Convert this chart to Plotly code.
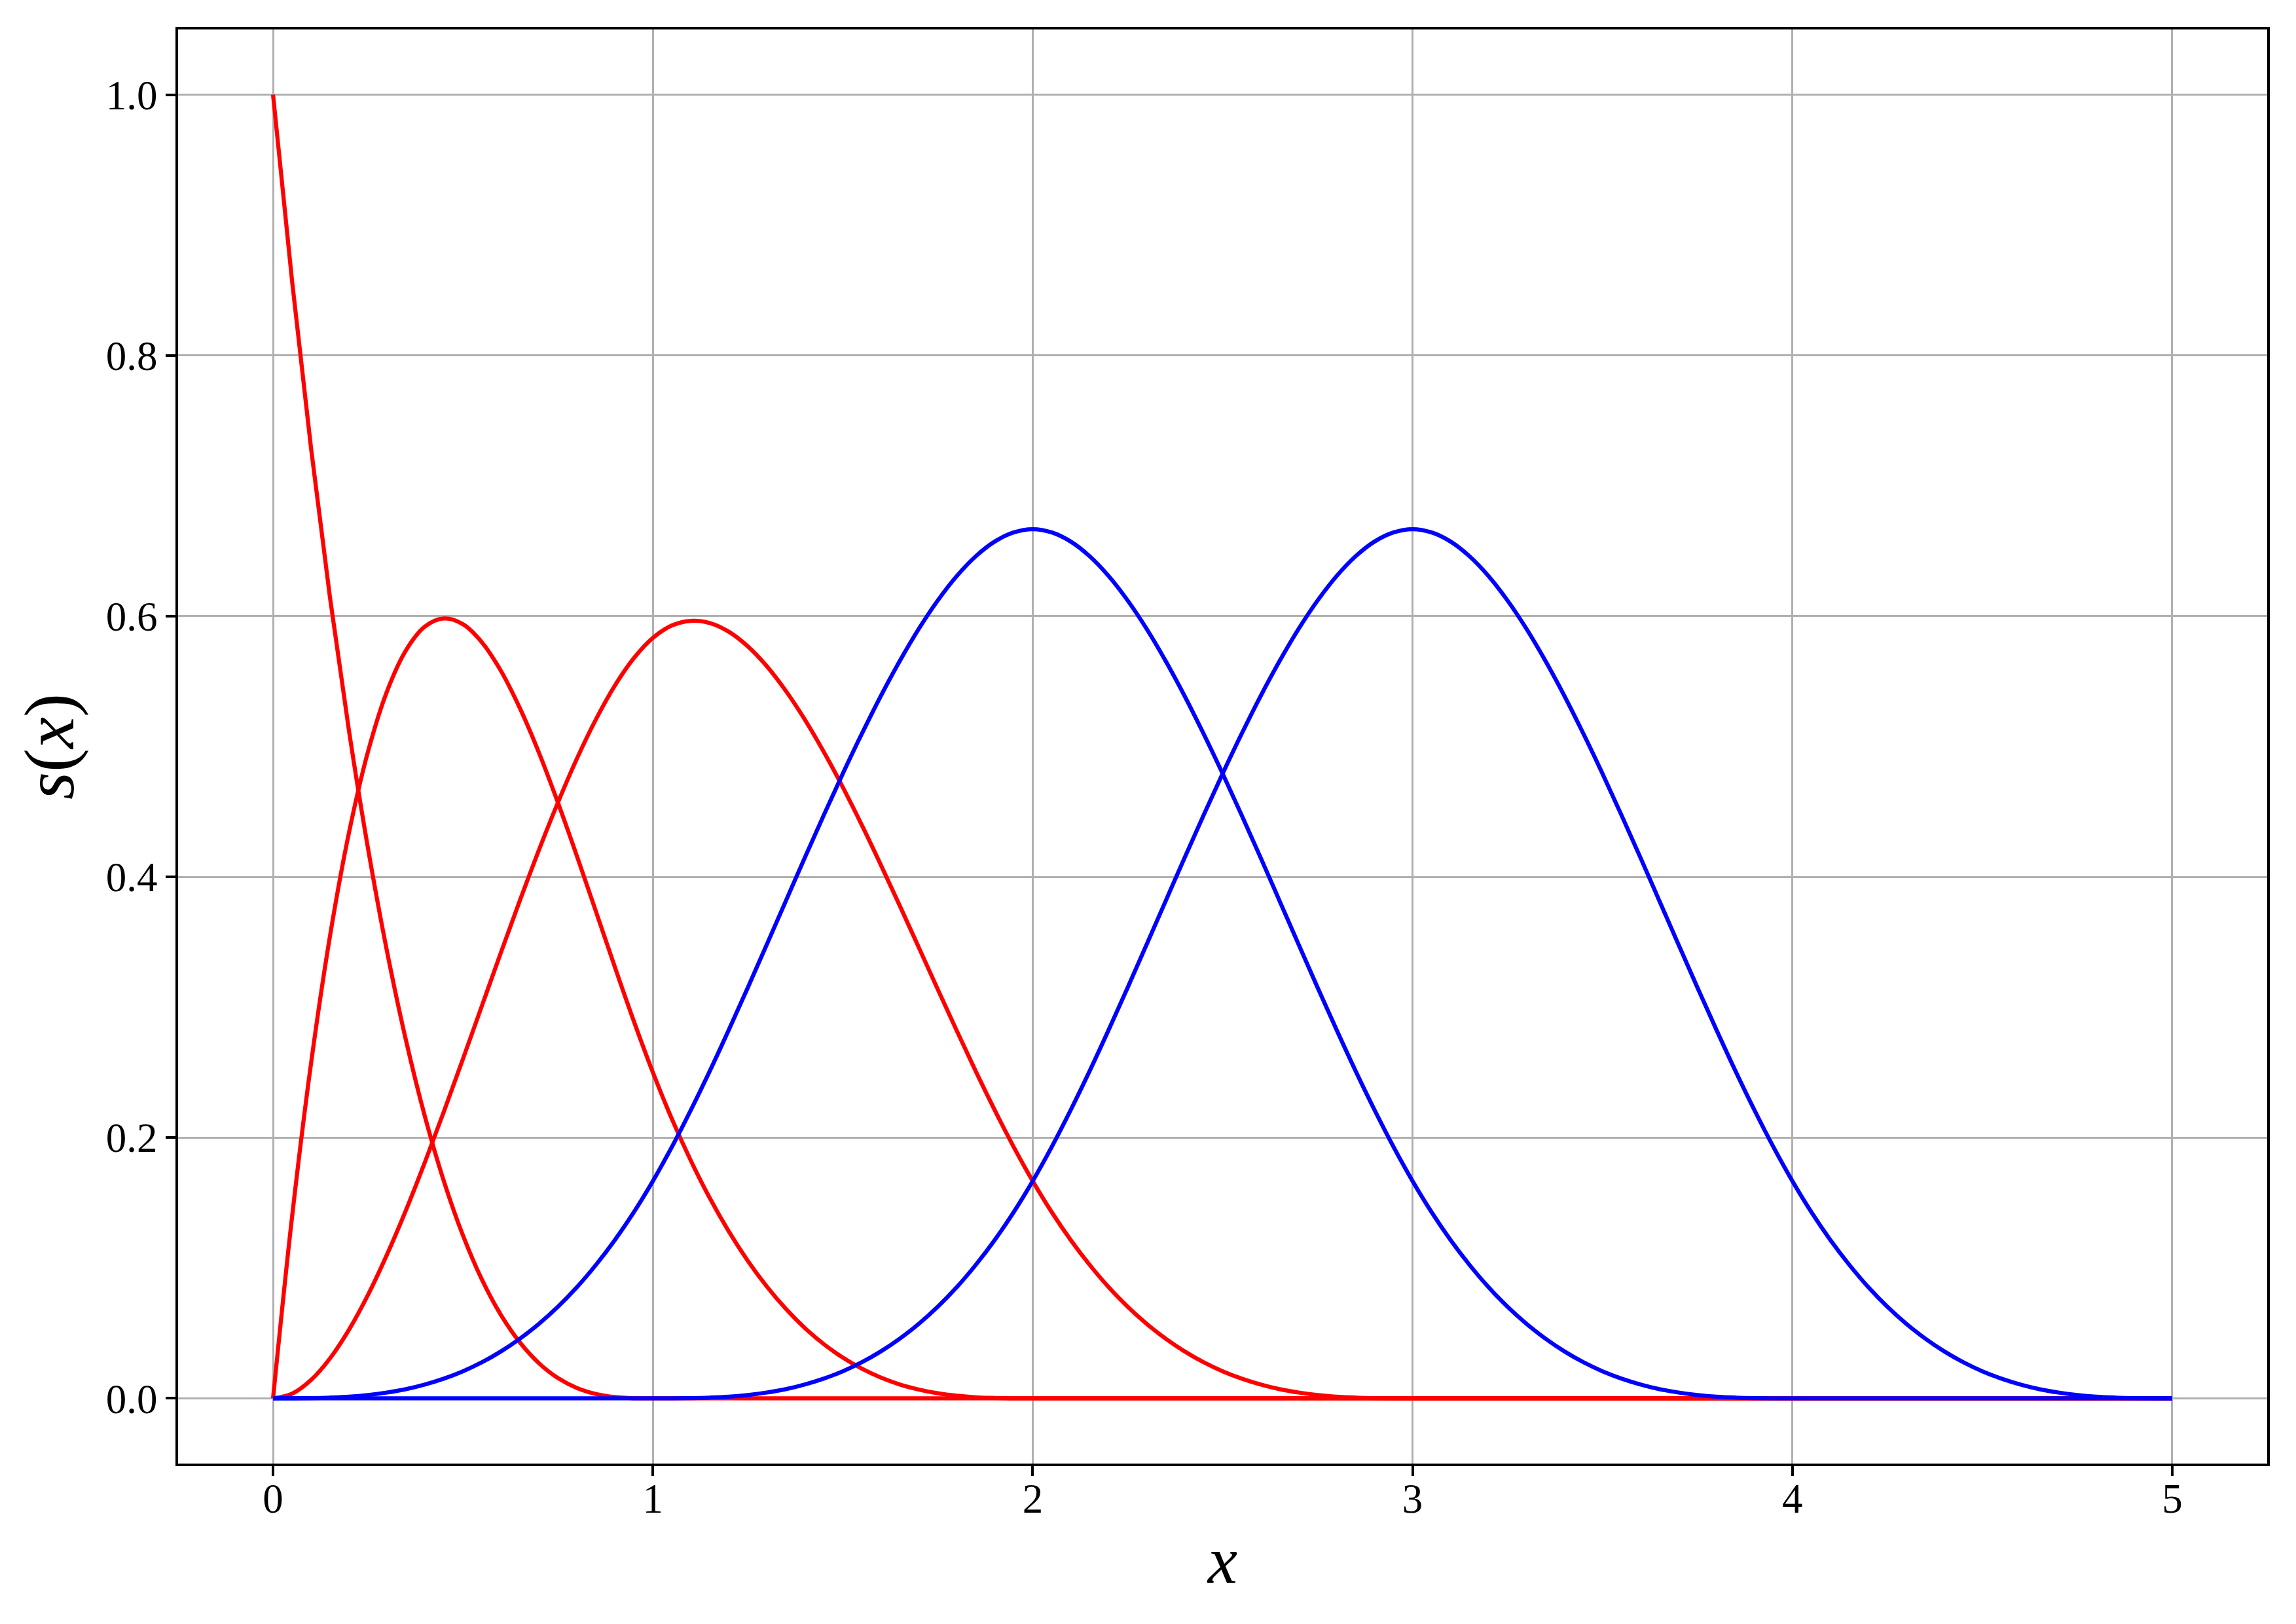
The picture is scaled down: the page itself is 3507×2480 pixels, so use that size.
import plotly.graph_objects as go

# x sample positions
x_vals = [0.0, 0.05, 0.1, 0.15, 0.2, 0.25, 0.3, 0.35, 0.4, 0.45,
          0.5, 0.55, 0.6, 0.65, 0.7, 0.75, 0.8, 0.85, 0.9, 0.95,
          1.0, 1.05, 1.1, 1.15, 1.2, 1.25, 1.3, 1.35, 1.4, 1.45,
          1.5, 1.55, 1.6, 1.65, 1.7, 1.75, 1.8, 1.85, 1.9, 1.95,
          2.0, 2.05, 2.1, 2.15, 2.2, 2.25, 2.3, 2.35, 2.4, 2.45,
          2.5, 2.55, 2.6, 2.65, 2.7, 2.75, 2.8, 2.85, 2.9, 2.95,
          3.0, 3.05, 3.1, 3.15, 3.2, 3.25, 3.3, 3.35, 3.4, 3.45,
          3.5, 3.55, 3.6, 3.65, 3.7, 3.75, 3.8, 3.85, 3.9, 3.95,
          4.0, 4.05, 4.1, 4.15, 4.2, 4.25, 4.3, 4.35, 4.4, 4.45,
          4.5, 4.55, 4.6, 4.65, 4.7, 4.75, 4.8, 4.85, 4.9, 4.95, 5.0]

# red curves (boundary basis functions), read at the x positions above
red_1 = [1.0, 0.8574, 0.729, 0.6141, 0.512, 0.4219, 0.343, 0.2746, 0.216, 0.1664,
         0.125, 0.0911, 0.064, 0.0429, 0.027, 0.0156, 0.008, 0.0034, 0.001, 0.0001,
         0.0] + [0.0] * 80
red_2 = [0.0, 0.139, 0.2568, 0.3547, 0.434, 0.4961, 0.5423, 0.5738, 0.592, 0.5982,
         0.5938, 0.5799, 0.558, 0.5293, 0.4953, 0.457, 0.416, 0.3735, 0.3308, 0.2892,
         0.25, 0.2143, 0.1823, 0.1535, 0.128, 0.1055, 0.0858, 0.0687, 0.054, 0.0416,
         0.0313, 0.0228, 0.016, 0.0107, 0.0068, 0.0039, 0.002, 0.0008, 0.0003, 0.0,
         0.0] + [0.0] * 60
red_3 = [0.0, 0.0036, 0.0141, 0.0307, 0.0527, 0.0794, 0.1103, 0.1444, 0.1813, 0.2202,
         0.2604, 0.3012, 0.342, 0.382, 0.4206, 0.457, 0.4907, 0.5208, 0.5468, 0.5678,
         0.5833, 0.5928, 0.5964, 0.5947, 0.588, 0.5768, 0.5616, 0.5427, 0.5207, 0.4959,
         0.4688, 0.4398, 0.4093, 0.3779, 0.3459, 0.3138, 0.282, 0.2509, 0.2211, 0.1928,
         0.1667, 0.1429, 0.1215, 0.1024, 0.0853, 0.0703, 0.0572, 0.0458, 0.036, 0.0277,
         0.0208, 0.0152, 0.0107, 0.0071, 0.0045, 0.0026, 0.0013, 0.0006, 0.0002, 0.0,
         0.0] + [0.0] * 40

# blue curves (interior basis functions)
blue_1 = [0.0, 0.0, 0.0002, 0.0006, 0.0013, 0.0026, 0.0045, 0.0071, 0.0107, 0.0152,
          0.0208, 0.0277, 0.036, 0.0458, 0.0572, 0.0703, 0.0853, 0.1024, 0.1215, 0.1429,
          0.1667, 0.1929, 0.2212, 0.2512, 0.2827, 0.3151, 0.3482, 0.3815, 0.4147, 0.4474,
          0.4792, 0.5097, 0.5387, 0.5656, 0.5902, 0.612, 0.6307, 0.6459, 0.6572, 0.6642,
          0.6667, 0.6642, 0.6572, 0.6459, 0.6307, 0.612, 0.5902, 0.5656, 0.5387, 0.5097,
          0.4792, 0.4474, 0.4147, 0.3815, 0.3482, 0.3151, 0.2827, 0.2512, 0.2212, 0.1929,
          0.1667, 0.1429, 0.1215, 0.1024, 0.0853, 0.0703, 0.0572, 0.0458, 0.036, 0.0277,
          0.0208, 0.0152, 0.0107, 0.0071, 0.0045, 0.0026, 0.0013, 0.0006, 0.0002, 0.0,
          0.0] + [0.0] * 20
blue_2 = [0.0] * 20 + [
          0.0, 0.0, 0.0002, 0.0006, 0.0013, 0.0026, 0.0045, 0.0071, 0.0107, 0.0152,
          0.0208, 0.0277, 0.036, 0.0458, 0.0572, 0.0703, 0.0853, 0.1024, 0.1215, 0.1429,
          0.1667, 0.1929, 0.2212, 0.2512, 0.2827, 0.3151, 0.3482, 0.3815, 0.4147, 0.4474,
          0.4792, 0.5097, 0.5387, 0.5656, 0.5902, 0.612, 0.6307, 0.6459, 0.6572, 0.6642,
          0.6667, 0.6642, 0.6572, 0.6459, 0.6307, 0.612, 0.5902, 0.5656, 0.5387, 0.5097,
          0.4792, 0.4474, 0.4147, 0.3815, 0.3482, 0.3151, 0.2827, 0.2512, 0.2212, 0.1929,
          0.1667, 0.1429, 0.1215, 0.1024, 0.0853, 0.0703, 0.0572, 0.0458, 0.036, 0.0277,
          0.0208, 0.0152, 0.0107, 0.0071, 0.0045, 0.0026, 0.0013, 0.0006, 0.0002, 0.0,
          0.0]

x_ticks = [0, 1, 2, 3, 4, 5]
x_tick_text = ["0", "1", "2", "3", "4", "5"]
y_ticks = [0.0, 0.2, 0.4, 0.6, 0.8, 1.0]
y_tick_text = ["0.0", "0.2", "0.4", "0.6", "0.8", "1.0"]

fig = go.Figure()
for ys, col in [(red_1, "red"), (red_2, "red"), (red_3, "red"),
                (blue_1, "blue"), (blue_2, "blue")]:
    fig.add_trace(go.Scatter(x=x_vals, y=ys, mode="lines",
                             line=dict(color=col, width=6.25, shape="spline",
                                       smoothing=1.0, simplify=False),
                             showlegend=False))

font_family = "Liberation Serif, Times New Roman, serif"
axis_common = dict(
    showgrid=True, gridcolor="#b0b0b0", gridwidth=3.3,
    showline=True, linecolor="black", linewidth=4, mirror=True,
    ticks="outside", ticklen=15, tickwidth=4, tickcolor="black",
    zeroline=False, automargin=False,
    tickfont=dict(family=font_family, size=63, color="black"),
)

fig.update_layout(
    width=3507, height=2480,
    margin=dict(l=272, r=44, t=45, b=245, autoexpand=False),
    plot_bgcolor="white", paper_bgcolor="white",
    font=dict(family=font_family, size=63, color="black"),
    showlegend=False,
    xaxis=dict(range=[-0.25, 5.25], tickvals=x_ticks, ticktext=x_tick_text,
               ticklabelstandoff=-20,
               title=dict(text="<i>x</i>", font=dict(family=font_family, size=102),
                          standoff=24),
               **axis_common),
    yaxis=dict(range=[-0.05, 1.05], tickvals=y_ticks, ticktext=y_tick_text,
               title=dict(text="<i>s</i>(<i>x</i>)", font=dict(family=font_family, size=108),
                          standoff=14),
               **axis_common),
)

fig.write_html("out.html", config={"displayModeBar": False},
               post_script="document.body.style.margin='0px';")
